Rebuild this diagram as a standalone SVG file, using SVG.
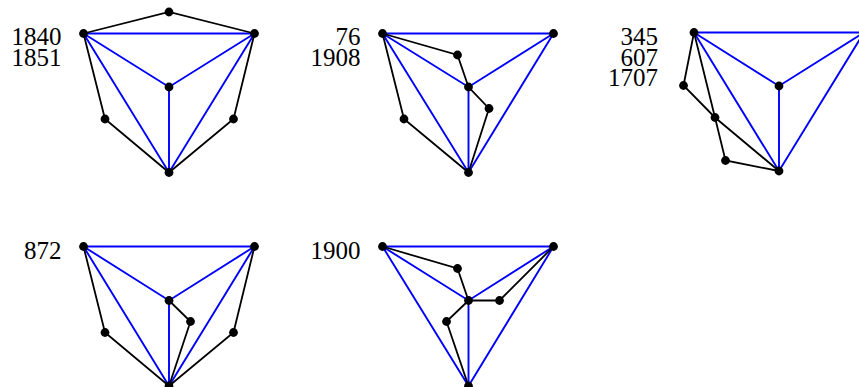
<svg xmlns="http://www.w3.org/2000/svg" width="859" height="387" viewBox="0 0 859 387">
<style>
.b{stroke:#0000ff;stroke-width:1.9;fill:none;stroke-linecap:round}
.k{stroke:#000;stroke-width:1.8;fill:none;stroke-linecap:round}
.n{fill:#000}
.t{font-family:"Liberation Serif","DejaVu Serif",serif;font-size:25px;fill:#000;text-anchor:end}
</style>
<rect width="859" height="387" fill="#fff"/>
<g id="connectors">
<!-- D1 -->
<path class="b" d="M83.5,33.5H254.5M83.5,33.5L169,87L254.5,33.5M169,87V172.5M83.5,33.5L169,172.5L254.5,33.5"/>
<path class="k" d="M83.5,33.5L169,12L254.5,33.5M83.5,33.5L105,119L169,172.5L233.5,119L254.5,33.5"/>
<!-- D2 -->
<path class="b" d="M382.5,33.5H553.5M382.5,33.5L468.5,87L553.5,33.5M468.5,87V172.5M382.5,33.5L468.5,172.5L553.5,33.5"/>
<path class="k" d="M382.5,33.5L457.5,55L468.5,87L489,108.5L468.5,172.5M382.5,33.5L404,119L468.5,172.5"/>
<!-- D3 -->
<path class="b" d="M694,32.5H864M694,32.5L779,86L864,32.5M779,86V171M694,32.5L779,171L864,32.5"/>
<path class="k" d="M694,32.5L683.5,85.5L715,117.5L779,171M694,32.5L715,117.5L725.5,160.5L779,171"/>
<!-- D4 -->
<path class="b" d="M83.5,246.5H254.5M83.5,246.5L169,300.5L254.5,246.5M169,300.5V386M83.5,246.5L169,386L254.5,246.5"/>
<path class="k" d="M83.5,246.5L105,332.5L169,386L233.5,332.5L254.5,246.5M169,300.5L190.5,321.5L169,386"/>
<!-- D5 -->
<path class="b" d="M382.5,246.5H553.5M382.5,246.5L468.5,300.5L553.5,246.5M468.5,300.5V386M382.5,246.5L468.5,386L553.5,246.5"/>
<path class="k" d="M382.5,246.5L457.5,268.5L468.5,300.5H499.5L553.5,246.5M468.5,300.5L446.5,321.5L468.5,386"/>
</g>
<g id="d1">
<text class="t" x="61.5" y="45">1840</text>
<text class="t" x="61.5" y="65.5">1851</text>
<g id="d1-tl"><circle class="n" cx="83.5" cy="33.5" r="4.4"/></g>
<g id="d1-tr"><circle class="n" cx="254.5" cy="33.5" r="4.4"/></g>
<g id="d1-t"><circle class="n" cx="169" cy="12" r="4.4"/></g>
<g id="d1-c"><circle class="n" cx="169" cy="87" r="4.4"/></g>
<g id="d1-b"><circle class="n" cx="169" cy="172.5" r="4.4"/></g>
<g id="d1-l"><circle class="n" cx="105" cy="119" r="4.4"/></g>
<g id="d1-r"><circle class="n" cx="233.5" cy="119" r="4.4"/></g>
</g>
<g id="d2">
<text class="t" x="360.5" y="45">76</text>
<text class="t" x="360.5" y="65.5">1908</text>
<g id="d2-tl"><circle class="n" cx="382.5" cy="33.5" r="4.4"/></g>
<g id="d2-tr"><circle class="n" cx="553.5" cy="33.5" r="4.4"/></g>
<g id="d2-a"><circle class="n" cx="457.5" cy="55" r="4.4"/></g>
<g id="d2-c"><circle class="n" cx="468.5" cy="87" r="4.4"/></g>
<g id="d2-q"><circle class="n" cx="489" cy="108.5" r="4.4"/></g>
<g id="d2-l"><circle class="n" cx="404" cy="119" r="4.4"/></g>
<g id="d2-b"><circle class="n" cx="468.5" cy="172.5" r="4.4"/></g>
</g>
<g id="d3">
<text class="t" x="658" y="45">345</text>
<text class="t" x="658" y="65.5">607</text>
<text class="t" x="658" y="86">1707</text>
<g id="d3-tl"><circle class="n" cx="694" cy="32.5" r="4.4"/></g>
<g id="d3-tr"><circle class="n" cx="864" cy="32.5" r="4.4"/></g>
<g id="d3-p"><circle class="n" cx="683.5" cy="85.5" r="4.4"/></g>
<g id="d3-q"><circle class="n" cx="715" cy="117.5" r="4.4"/></g>
<g id="d3-r"><circle class="n" cx="725.5" cy="160.5" r="4.4"/></g>
<g id="d3-c"><circle class="n" cx="779" cy="86" r="4.4"/></g>
<g id="d3-b"><circle class="n" cx="779" cy="171" r="4.4"/></g>
</g>
<g id="d4">
<text class="t" x="61.5" y="258.5">872</text>
<g id="d4-tl"><circle class="n" cx="83.5" cy="246.5" r="4.4"/></g>
<g id="d4-tr"><circle class="n" cx="254.5" cy="246.5" r="4.4"/></g>
<g id="d4-c"><circle class="n" cx="169" cy="300.5" r="4.4"/></g>
<g id="d4-s"><circle class="n" cx="190.5" cy="321.5" r="4.4"/></g>
<g id="d4-l"><circle class="n" cx="105" cy="332.5" r="4.4"/></g>
<g id="d4-r"><circle class="n" cx="233.5" cy="332.5" r="4.4"/></g>
<g id="d4-b"><circle class="n" cx="169" cy="386" r="4.4"/></g>
</g>
<g id="d5">
<text class="t" x="360.5" y="258.5">1900</text>
<g id="d5-tl"><circle class="n" cx="382.5" cy="246.5" r="4.4"/></g>
<g id="d5-tr"><circle class="n" cx="553.5" cy="246.5" r="4.4"/></g>
<g id="d5-a"><circle class="n" cx="457.5" cy="268.5" r="4.4"/></g>
<g id="d5-c"><circle class="n" cx="468.5" cy="300.5" r="4.4"/></g>
<g id="d5-e"><circle class="n" cx="499.5" cy="300.5" r="4.4"/></g>
<g id="d5-d"><circle class="n" cx="446.5" cy="321.5" r="4.4"/></g>
<g id="d5-b"><circle class="n" cx="468.5" cy="386" r="4.4"/></g>
</g>
</svg>
